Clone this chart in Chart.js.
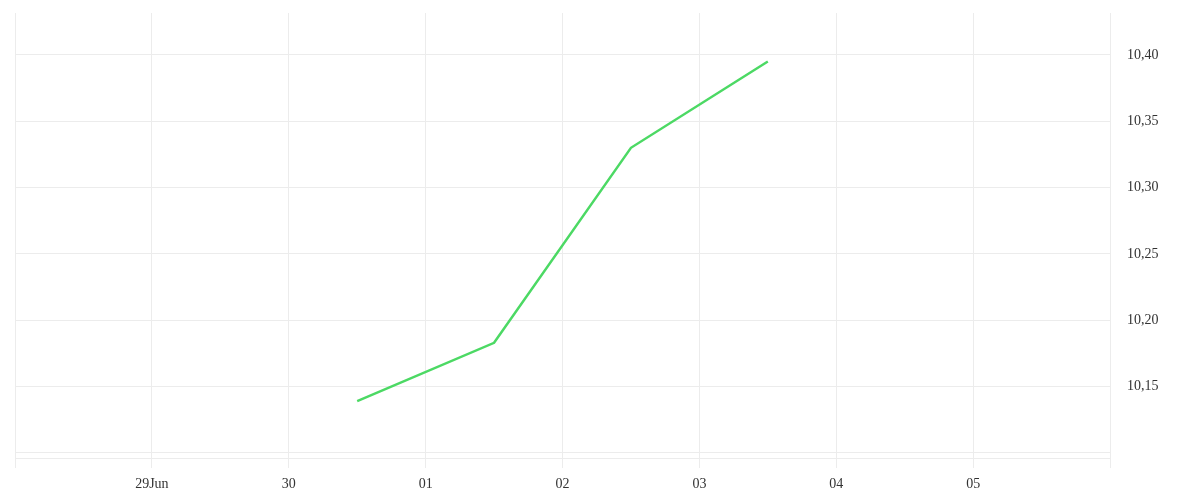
<!DOCTYPE html>
<html>
<head>
<meta charset="utf-8">
<script src="https://cdn.jsdelivr.net/npm/chart.js@4"></script>
<style>
  body { margin: 0; background: #fff; }
</style>
</head>
<body>
<canvas id="price" width="1200" height="500"></canvas>
<script>
// days counted from 28 Jun 00:00
const dayLabels = ['', '29Jun', '30', '01', '02', '03', '04', '05', ''];
const pointDays = [2.5, 3.5, 4.5, 5.5];
const prices = [10.139, 10.183, 10.330, 10.395];
const yTicks = [10.10, 10.15, 10.20, 10.25, 10.30, 10.35, 10.40];

const gridColor = '#ececec';
const tickFont = { family: 'Liberation Serif', size: 14 };

function initializeChart() {
    const ctx = document.getElementById('price');

    new Chart(ctx, {
        type: 'line',
        data: {
            datasets: [{
                data: pointDays.map((d, i) => ({ x: d, y: prices[i] })),
                borderColor: '#4cd964',
                borderWidth: 2.5,
                pointRadius: 0,
                tension: 0
            }]
        },
        options: {
            responsive: false,
            animation: false,
            layout: {
                padding: { left: 15, top: 13, right: 0, bottom: 0 }
            },
            plugins: {
                legend: { display: false },
                tooltip: { enabled: false }
            },
            scales: {
                x: {
                    type: 'linear',
                    min: 0,
                    max: 8,
                    grid: { color: gridColor, tickLength: 10 },
                    border: { display: true, color: gridColor },
                    ticks: {
                        stepSize: 1,
                        autoSkip: false,
                        maxRotation: 0,
                        padding: 8,
                        color: '#333',
                        font: tickFont,
                        callback: (value) => dayLabels[value] ?? ''
                    },
                    afterFit: (scale) => {
                        scale.height = 42;
                        scale.paddingLeft = 0;
                        scale.paddingRight = 0;
                    }
                },
                y: {
                    position: 'right',
                    min: 10.0962,
                    max: 10.4316,
                    grid: { color: gridColor, drawTicks: false },
                    border: { display: false },
                    afterBuildTicks: (scale) => {
                        scale.ticks = yTicks.map(v => ({ value: v }));
                    },
                    ticks: {
                        padding: 17,
                        color: '#333',
                        font: tickFont,
                        callback: (value) => value < 10.12 ? '' : value.toFixed(2).replace('.', ',')
                    },
                    afterFit: (scale) => {
                        scale.width = 90;
                        scale.paddingTop = 0;
                        scale.paddingBottom = 0;
                    }
                }
            }
        }
    });
}

document.addEventListener('DOMContentLoaded', initializeChart);
</script>
</body>
</html>
